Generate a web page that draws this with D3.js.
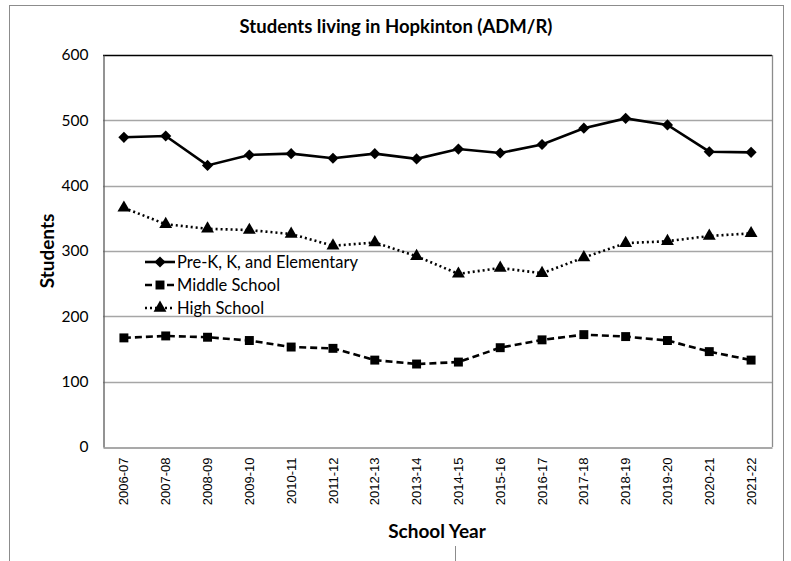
<!DOCTYPE html>
<html>
<head>
<meta charset="utf-8">
<script src="https://cdn.jsdelivr.net/npm/d3@7"></script>
<style>
  body { margin: 0; background: #fff; }
  svg { display: block; }
</style>
</head>
<body>
<div id="viz"></div>
<script>
var years = ['2006-07','2007-08','2008-09','2009-10','2010-11','2011-12','2012-13','2013-14',
             '2014-15','2015-16','2016-17','2017-18','2018-19','2019-20','2020-21','2021-22'];
var elementary = [474, 476, 431, 447, 449, 442, 449, 441, 456, 450, 463, 488, 503, 493, 452, 451];
var middle     = [167, 170, 168, 163, 153, 151, 133, 127, 130, 152, 164, 172, 169, 163, 146, 133];
var high       = [366, 341, 334, 332, 326, 308, 313, 292, 265, 274, 266, 290, 312, 315, 323, 327];
var yTicks = [0, 100, 200, 300, 400, 500, 600];
var seriesNames = ['Pre-K, K, and Elementary', 'Middle School', 'High School'];

var W = 791, H = 561,
    plotLeft = 103, plotRight = 772, plotTop = 55, plotBottom = 447,
    calibri = 'Lato, "Open Sans", sans-serif';

var series = [
  { name: seriesNames[0], values: elementary, dash: null,  symbol: 'diamond' },
  { name: seriesNames[1], values: middle,     dash: '7,4', symbol: 'square' },
  { name: seriesNames[2], values: high,       dash: '2,3', symbol: 'triangle' }
];

var svg = d3.select('#viz').append('svg')
    .attr('width', W)
    .attr('height', H);

// outer chart frame
svg.append('rect')
    .attr('x', 9.5).attr('y', 5.5)
    .attr('width', 774).attr('height', 600)
    .attr('fill', 'none')
    .attr('stroke', '#8c8c8c');
svg.append('line')
    .attr('x1', 455.5).attr('x2', 455.5)
    .attr('y1', 546).attr('y2', 561)
    .attr('stroke', '#8c8c8c');

var x = d3.scaleBand().domain(years).range([plotLeft, plotRight]);
var y = d3.scaleLinear().domain([0, 600]).range([plotBottom, plotTop]);
var cx = function(d, i) { return x(years[i]) + x.bandwidth() / 2; };

// gridlines
svg.append('g').selectAll('line')
    .data(yTicks.filter(function(t) { return t > 0; }))
    .enter().append('line')
    .attr('x1', plotLeft).attr('x2', plotRight)
    .attr('y1', function(d) { return Math.round(y(d)) + 0.5; })
    .attr('y2', function(d) { return Math.round(y(d)) + 0.5; })
    .attr('stroke', function(d) { return d === 600 ? '#000' : '#a6a6a6'; })
    .attr('stroke-width', function(d) { return d === 600 ? 1.5 : 1.3; });

// plot area right edge
svg.append('line')
    .attr('x1', plotRight + 0.5).attr('x2', plotRight + 0.5)
    .attr('y1', plotTop).attr('y2', plotBottom)
    .attr('stroke', '#8c8c8c').attr('stroke-width', 1.3);

// y axis
var yAxis = svg.append('g')
    .attr('transform', 'translate(' + (plotLeft + 0.5) + ',0)')
    .call(d3.axisLeft(y).tickValues(yTicks).tickSize(0).tickPadding(15));
yAxis.select('.domain').attr('stroke', '#595959').attr('stroke-width', 1.3);
yAxis.selectAll('text')
    .style('font-family', calibri)
    .style('font-size', '15.5px')
    .attr('fill', '#000');

// x axis
var xAxis = svg.append('g')
    .attr('transform', 'translate(0,' + (plotBottom + 0.5) + ')')
    .call(d3.axisBottom(x).tickSize(0));
xAxis.select('.domain').attr('stroke', '#8c8c8c').attr('stroke-width', 1.3);
xAxis.selectAll('text')
    .attr('transform', 'rotate(-90)')
    .attr('x', -10)
    .attr('y', 0)
    .attr('dy', '0.35em')
    .style('text-anchor', 'end')
    .style('font-family', '"Liberation Sans", Arial, sans-serif')
    .style('font-size', '13px')
    .attr('fill', '#000');

function marker(type) {
  if (type === 'diamond') return d3.symbol().type(d3.symbolSquare).size(62)();
  if (type === 'square') return d3.symbol().type(d3.symbolSquare).size(80)();
  return d3.symbol().type(d3.symbolTriangle).size(72)();
}

var line = d3.line()
    .x(cx)
    .y(function(d) { return y(d); });

series.forEach(function(s) {
  svg.append('path')
      .datum(s.values)
      .attr('d', line)
      .attr('fill', 'none')
      .attr('stroke', '#000')
      .attr('stroke-width', 2.6)
      .attr('stroke-dasharray', s.dash);

  svg.append('g').selectAll('path')
      .data(s.values)
      .enter().append('path')
      .attr('d', marker(s.symbol))
      .attr('transform', function(d, i) {
        return 'translate(' + cx(d, i) + ',' + y(d) + ')' + (s.symbol === 'diamond' ? ' rotate(45)' : '');
      })
      .attr('fill', '#000');
});

// legend
var legend = svg.append('g').selectAll('g')
    .data(series)
    .enter().append('g')
    .attr('transform', function(d, i) { return 'translate(145,' + (262 + i * 23) + ')'; });
legend.append('line')
    .attr('x1', 0).attr('x2', 30)
    .attr('stroke', '#000')
    .attr('stroke-width', 2.6)
    .attr('stroke-dasharray', function(d) { return d.dash; });
legend.append('path')
    .attr('d', function(d) { return marker(d.symbol); })
    .attr('transform', function(d) { return 'translate(15,0)' + (d.symbol === 'diamond' ? ' rotate(45)' : ''); })
    .attr('fill', '#000');
legend.append('text')
    .attr('x', 32)
    .attr('dy', '0.35em')
    .style('font-family', calibri)
    .style('font-size', '16.5px')
    .text(function(d) { return d.name; });

// titles
svg.append('text')
    .attr('x', 396).attr('y', 33)
    .attr('text-anchor', 'middle')
    .style('font-family', calibri)
    .style('font-weight', 'bold')
    .style('font-size', '18.5px')
    .text('Students living in Hopkinton (ADM/R)');

svg.append('text')
    .attr('transform', 'translate(54,251) rotate(-90)')
    .attr('text-anchor', 'middle')
    .style('font-family', calibri)
    .style('font-weight', 'bold')
    .style('font-size', '19px')
    .text('Students');

svg.append('text')
    .attr('x', 437).attr('y', 538)
    .attr('text-anchor', 'middle')
    .style('font-family', calibri)
    .style('font-weight', 'bold')
    .style('font-size', '19px')
    .text('School Year');
</script>
</body>
</html>
